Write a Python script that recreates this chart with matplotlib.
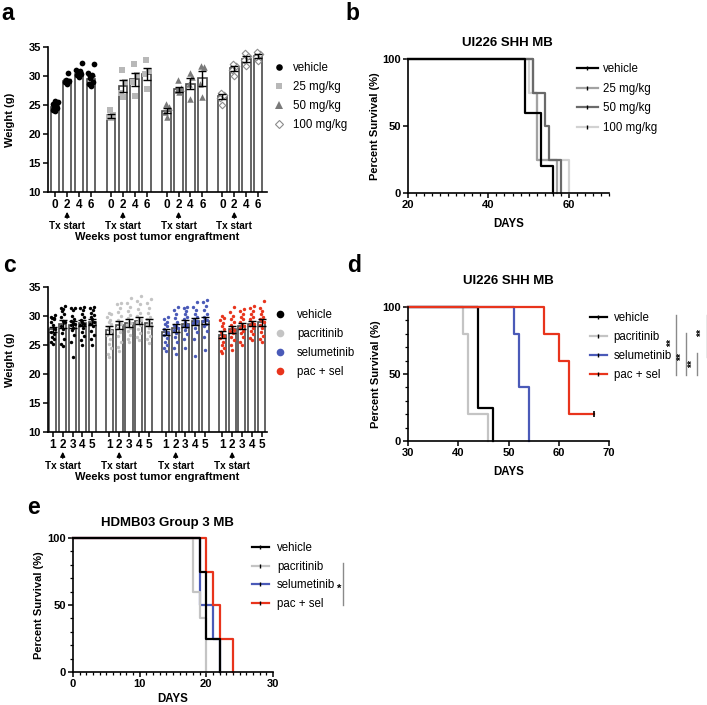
import matplotlib

matplotlib.use("Agg")
import matplotlib.pyplot as plt
import matplotlib.transforms as mtransforms
from matplotlib.lines import Line2D
from matplotlib.ticker import MultipleLocator
import numpy as np

plt.rcParams["font.family"] = ["Liberation Sans", "DejaVu Sans"]
plt.rcParams["font.weight"] = "bold"
plt.rcParams["axes.labelweight"] = "bold"

W, H = 707, 705

# ---------------- panel a: weights, dose groups ----------------
A_WEEKS = [0, 2, 4, 6]
A_GROUPS = ["vehicle", "25 mg/kg", "50 mg/kg", "100 mg/kg"]
A_MEANS = [
    [24.7, 29.1, 30.4, 29.5],
    [23.1, 28.3, 29.4, 30.4],
    [24.0, 27.7, 28.7, 29.6],
    [26.5, 31.3, 32.9, 33.4],
]
A_VEHICLE_PTS = [
    [23.9, 24.2, 24.5, 24.7, 24.9, 25.2, 25.5, 25.7],
    [28.7, 28.9, 29.1, 29.3, 30.6],
    [29.9, 30.2, 30.4, 30.6, 30.9, 31.0, 32.3],
    [28.2, 28.6, 29.0, 29.6, 30.1, 30.6, 32.1],
]
A_25_PTS = [
    [22.7, 23.0, 23.3, 24.2],
    [26.3, 27.1, 29.0, 31.0],
    [26.5, 29.0, 30.2, 32.0],
    [27.8, 30.4, 30.9, 32.8],
]
A_50_PTS = [
    [23.0, 23.8, 24.6, 25.1],
    [27.2, 27.6, 27.9, 29.3],
    [26.0, 28.6, 29.8, 30.5],
    [26.3, 28.6, 31.6, 31.8],
]
A_100_PTS = [
    [25.0, 26.2, 26.7, 27.0],
    [30.0, 31.0, 31.7, 32.0],
    [31.7, 32.8, 33.5, 34.0],
    [32.6, 33.3, 33.8, 34.2],
]

# ---------------- panel c: weights, drug groups ----------------
C_WEEKS = [1, 2, 3, 4, 5]
C_GROUPS = ["vehicle", "pacritinib", "selumetinib", "pac + sel"]
C_MEANS = [
    [27.7, 28.6, 28.5, 28.8, 29.0],
    [27.6, 28.5, 28.8, 29.2, 28.8],
    [27.3, 27.9, 28.7, 29.1, 29.2],
    [26.8, 27.7, 28.2, 28.7, 28.9],
]
C_VEHICLE_PTS = [
    [25.2, 25.6, 26.0, 26.3, 26.9, 27.3, 27.8, 28.4, 29.0, 29.4, 29.7, 29.9, 30.2, 29.6],
    [24.8, 25.1, 26.0, 27.0, 27.7, 28.3, 28.9, 29.2, 29.8, 30.3, 30.9, 31.4, 31.7, 31.2],
    [23.0, 25.6, 26.8, 27.6, 28.0, 28.4, 28.8, 29.1, 29.5, 30.0, 31.0, 31.4, 31.3, 28.6],
    [25.0, 25.8, 26.5, 27.2, 28.0, 28.5, 28.9, 29.3, 29.8, 30.3, 31.0, 31.3, 31.5, 28.7],
    [25.0, 26.0, 26.8, 27.5, 28.2, 28.7, 29.0, 29.4, 29.8, 30.2, 30.6, 31.0, 31.3, 31.5],
]
C_PAC_PTS = [
    [23.0, 23.5, 24.4, 25.2, 26.0, 26.8, 27.5, 28.1, 28.7, 29.3, 29.8, 30.3, 30.6, 29.0, 27.9],
    [24.0, 24.6, 25.5, 26.5, 27.3, 28.0, 28.6, 29.3, 30.0, 30.7, 31.4, 32.0, 32.3, 29.0],
    [25.5, 26.0, 26.8, 27.5, 28.0, 28.5, 29.0, 29.6, 30.2, 30.8, 31.5, 32.2, 33.1, 28.8],
    [25.8, 26.3, 27.0, 27.8, 28.5, 29.0, 29.5, 30.0, 30.5, 31.2, 32.0, 32.6, 33.5, 29.3],
    [25.4, 26.0, 26.6, 27.3, 28.0, 28.5, 29.0, 29.4, 29.9, 30.5, 31.4, 32.2, 32.9, 28.4],
]
C_SEL_PTS = [
    [24.0, 24.5, 25.0, 25.6, 26.2, 26.8, 27.3, 27.8, 28.2, 28.6, 29.0, 29.4, 29.8, 27.1],
    [23.5, 24.4, 25.5, 26.4, 27.0, 27.6, 28.0, 28.5, 29.0, 29.6, 30.3, 31.0, 31.5, 28.2],
    [24.5, 26.0, 26.9, 27.6, 28.1, 28.5, 29.0, 29.4, 29.9, 30.4, 30.9, 31.3, 31.5, 28.3],
    [23.1, 26.0, 27.2, 28.0, 28.6, 29.1, 29.5, 29.9, 30.4, 31.0, 31.6, 32.4, 29.2, 28.8],
    [24.2, 26.3, 27.5, 28.2, 28.7, 29.1, 29.5, 29.9, 30.4, 31.0, 31.8, 32.4, 32.7, 29.3],
]
C_PACSEL_PTS = [
    [23.6, 24.0, 24.5, 25.0, 25.6, 26.2, 26.7, 27.2, 27.7, 28.2, 28.8, 29.3, 29.7, 30.0, 26.5],
    [24.2, 25.0, 25.8, 26.4, 27.0, 27.5, 28.0, 28.4, 28.9, 29.4, 30.0, 30.7, 31.5, 27.6],
    [25.0, 25.6, 26.3, 27.0, 27.5, 28.0, 28.5, 29.0, 29.4, 29.8, 30.3, 30.8, 31.2, 28.2],
    [25.8, 26.2, 26.9, 27.5, 28.0, 28.5, 29.0, 29.4, 29.9, 30.3, 30.8, 31.3, 31.8, 28.6],
    [25.5, 26.0, 26.6, 27.3, 28.0, 28.5, 29.0, 29.5, 29.9, 30.3, 30.8, 31.4, 32.6, 29.1],
]

# ---------------- panel b: survival, dose groups ----------------
B_VEHICLE = ([0, 49, 53, 56], [100, 60, 20, 0])
B_25 = ([0, 51, 52, 57], [100, 75, 25, 0])
B_50 = ([0, 51, 54, 55, 58], [100, 75, 50, 25, 0])
B_100 = ([0, 50, 52, 60], [100, 75, 25, 0])

# ---------------- panel d: survival, drug groups (UI226) ----------------
D_VEHICLE = ([0, 44, 47], [100, 25, 0])
D_PAC = ([0, 41, 42, 46], [100, 80, 20, 0])
D_SEL = ([0, 51, 52, 54], [100, 80, 40, 0])
D_PACSEL = ([0, 57, 60, 62, 67], [100, 80, 60, 20, 20])
D_CENSOR = (67, 20)

# ---------------- panel e: survival, drug groups (HDMB03) ----------------
E_VEHICLE = ([0, 19, 20, 22], [100, 75, 25, 0])
E_PAC = ([0, 18, 19, 20], [100, 60, 40, 0])
E_SEL = ([0, 19, 21, 22], [100, 50, 25, 0])
E_PACSEL = ([0, 20, 21, 22, 24], [100, 75, 50, 25, 0])

GRAY_A = ["black", "#b8b8b8", "#7a7a7a", "white"]
DRUG_COLORS = ["black", "#c4c4c4", "#4a5ab8", "#e8341c"]
LEGEND_FONT = {"weight": "normal", "size": 8.3}


def fpos(x, y):
    return (x / W, 1 - y / H)


def axes_px(fig, left, top, right, bottom):
    return fig.add_axes([left / W, 1 - bottom / H, (right - left) / W, (bottom - top) / H])


def style_axes(ax):
    for side in ["top", "right"]:
        ax.spines[side].set_visible(False)
    for side in ["left", "bottom"]:
        ax.spines[side].set_linewidth(1.2)
    ax.tick_params(direction="out", length=3.5, width=1.1, labelsize=8, pad=1.5)
    ax.tick_params(which="minor", direction="out", length=2.2, width=0.9)


def swarm_offsets(vals, amp):
    pattern = np.array([0.0, -0.75, 0.75, -0.38, 0.38, -1.0, 1.0]) * amp
    order = np.argsort(vals)
    off = np.zeros(len(vals))
    for k, idx in enumerate(order):
        off[idx] = pattern[k % len(pattern)]
    return off


def weight_panel(fig, ax, weeks, means, points, marker_kw, step, xlim, bar_w, amp,
                 axis_bottom_px, label_px):
    style_axes(ax)
    ticks, labels = [], []
    n = len(weeks)
    for g, (m, pts, mk) in enumerate(zip(means, points, marker_kw)):
        xs = g * step + np.arange(n)
        ax.bar(xs, m, width=bar_w, color="white", edgecolor="#4a4a4a", linewidth=1.2, zorder=1)
        sems = []
        for x, vals in zip(xs, pts):
            vals = np.asarray(vals)
            ax.scatter(x + swarm_offsets(vals, amp), vals, zorder=2, clip_on=False, **mk)
            sems.append(vals.std(ddof=1) / np.sqrt(len(vals)))
        ax.errorbar(xs, m, yerr=sems, fmt="none", ecolor="black", elinewidth=1.0,
                    capsize=2.6, capthick=1.0, zorder=3)
        ticks.extend(xs)
        labels.extend(str(w) for w in weeks)
        tx = xs[list(weeks).index(2)]
        trans = mtransforms.blended_transform_factory(ax.transData, fig.transFigure)
        ax.annotate("", xy=(tx, 1 - (axis_bottom_px + 17) / H),
                    xytext=(tx, 1 - (axis_bottom_px + 29) / H), xycoords=trans, textcoords=trans,
                    arrowprops=dict(arrowstyle="-|>", color="black", lw=1.0, mutation_scale=7))
        ax.text(tx, 1 - (axis_bottom_px + 34) / H, "Tx start", transform=trans,
                ha="center", va="center", fontsize=7.2)
    ax.set_xticks(ticks)
    ax.set_xticklabels(labels, fontsize=8.5)
    ax.set_xlim(*xlim)
    ax.set_ylim(10, 35)
    ax.set_yticks([10, 15, 20, 25, 30, 35])
    ax.set_ylabel("Weight (g)", fontsize=8)
    ax.yaxis.set_label_coords(-0.15, 0.5)
    fig.text(*fpos(157, label_px), "Weeks post tumor engraftment", ha="center", va="center",
             fontsize=8)


def survival_panel(ax, curves, xlim, xmajor, xminor, yminor, title, title_px, ylab_x, xlab_y):
    style_axes(ax)
    for (t, s), c in curves:
        t_plot = np.clip(np.asarray(t, dtype=float), xlim[0], None)
        ax.step(t_plot, s, where="post", color=c, linewidth=1.6, clip_on=False)
    ax.set_xlim(*xlim)
    ax.set_ylim(0, 100)
    ax.set_yticks([0, 50, 100])
    ax.xaxis.set_major_locator(MultipleLocator(xmajor))
    if xminor:
        ax.xaxis.set_minor_locator(MultipleLocator(xminor))
    if yminor:
        ax.yaxis.set_minor_locator(MultipleLocator(yminor))
    ax.set_xlabel("DAYS", fontsize=8.3)
    ax.set_ylabel("Percent Survival (%)", fontsize=8)
    ax.xaxis.set_label_coords(0.5, xlab_y)
    ax.yaxis.set_label_coords(ylab_x, 0.5)
    ax.figure.text(*fpos(*title_px), title, ha="center", va="center", fontsize=9.5)


def survival_legend(ax, colors, names, anchor_px, handlelength, textpad, spacing):
    handles = [Line2D([], [], color=c, lw=1.6, marker="|", markersize=3.5,
                      markeredgecolor="black", markeredgewidth=1.0) for c in colors]
    ax.legend(handles, names, loc="upper left", bbox_to_anchor=fpos(*anchor_px),
              bbox_transform=ax.figure.transFigure, frameon=False, prop=LEGEND_FONT,
              handlelength=handlelength, handletextpad=textpad, labelspacing=spacing,
              borderpad=0, borderaxespad=0)


def main() -> None:
    fig = plt.figure(figsize=(W / 100, H / 100), dpi=100)

    # panel a
    ax_a = axes_px(fig, 48, 47, 267, 192)
    a_markers = [
        dict(marker="o", s=17, color=GRAY_A[0], linewidths=0),
        dict(marker="s", s=15, color=GRAY_A[1], linewidths=0),
        dict(marker="^", s=22, color=GRAY_A[2], linewidths=0),
        dict(marker="D", s=11, facecolor=GRAY_A[3], edgecolor="#8c8c8c", linewidths=0.8),
    ]
    weight_panel(fig, ax_a, A_WEEKS, A_MEANS, [A_VEHICLE_PTS, A_25_PTS, A_50_PTS, A_100_PTS],
                 a_markers, 4.67, (-0.6, 17.75), 0.72, 0.22, 192, 237)
    handles = [Line2D([], [], linestyle="none", marker=mk["marker"], markersize=np.sqrt(mk["s"]) * 1.15,
                      markerfacecolor=mk.get("color", mk.get("facecolor")),
                      markeredgecolor=mk.get("edgecolor", mk.get("color")),
                      markeredgewidth=mk["linewidths"]) for mk in a_markers]
    ax_a.legend(handles, A_GROUPS, loc="upper left", bbox_to_anchor=fpos(273, 62),
                bbox_transform=fig.transFigure, frameon=False, prop=LEGEND_FONT,
                handlelength=1.0, handletextpad=0.75, labelspacing=0.6, borderpad=0,
                borderaxespad=0)

    # panel c
    ax_c = axes_px(fig, 48, 287, 267, 432)
    c_markers = [dict(marker="o", s=6, color=c, linewidths=0) for c in DRUG_COLORS]
    weight_panel(fig, ax_c, C_WEEKS, C_MEANS, [C_VEHICLE_PTS, C_PAC_PTS, C_SEL_PTS, C_PACSEL_PTS],
                 c_markers, 5.75, (-0.5, 21.8), 0.72, 0.2, 432, 477)
    handles = [Line2D([], [], linestyle="none", marker="o", markersize=5.5, markerfacecolor=c,
                      markeredgewidth=0) for c in DRUG_COLORS]
    ax_c.legend(handles, C_GROUPS, loc="upper left", bbox_to_anchor=fpos(274, 309),
                bbox_transform=fig.transFigure, frameon=False, prop=LEGEND_FONT,
                handlelength=1.0, handletextpad=1.0, labelspacing=0.6, borderpad=0,
                borderaxespad=0)

    # panel b
    ax_b = axes_px(fig, 408, 59, 609, 193)
    b_colors = ["#d2d2d2", "#a2a2a2", "#6a6a6a", "black"]
    survival_panel(ax_b, list(zip([B_100, B_25, B_50, B_VEHICLE], b_colors)),
                   (20, 70), 20, 2, None, "UI226 SHH MB", (507, 43), -0.14, -0.19)
    survival_legend(ax_b, ["black", "#a2a2a2", "#6a6a6a", "#d2d2d2"],
                    ["vehicle", "25 mg/kg", "50 mg/kg", "100 mg/kg"], (577, 63), 1.8, 0.45, 0.66)

    # panel d
    ax_d = axes_px(fig, 408, 307, 609, 441)
    survival_panel(ax_d, list(zip([D_PAC, D_VEHICLE, D_SEL, D_PACSEL],
                                  [DRUG_COLORS[1], DRUG_COLORS[0], DRUG_COLORS[2], DRUG_COLORS[3]])),
                   (30, 70), 10, None, 10, "UI226 SHH MB", (508, 281), -0.135, -0.19)
    ax_d.plot(*D_CENSOR, marker="|", color="black", markersize=4, markeredgewidth=1.2, clip_on=False)
    survival_legend(ax_d, DRUG_COLORS, C_GROUPS, (590, 312), 1.45, 0.6, 0.6)

    # significance brackets, panel d
    d_sig = [(676, 315, 375, 672, 343), (685.7, 333, 375, 682, 357),
             (697, 353, 375, 693, 364), (706.5, 315, 357, 702, 333)]
    for x, y0, y1, tx, ty in d_sig:
        fig.add_artist(Line2D([x / W, x / W], [1 - y0 / H, 1 - y1 / H], color="#8a8a8a", lw=1.0))
        fig.text(*fpos(tx, ty), "**", rotation=90, ha="center", va="center", fontsize=7.5)

    # panel e
    ax_e = axes_px(fig, 73, 538, 273, 672)
    survival_panel(ax_e, list(zip([E_SEL, E_PAC, E_PACSEL, E_VEHICLE],
                                  [DRUG_COLORS[2], DRUG_COLORS[1], DRUG_COLORS[3], DRUG_COLORS[0]])),
                   (0, 30), 10, 1, 10, "HDMB03 Group 3 MB", (167, 523), -0.145, -0.155)
    survival_legend(ax_e, DRUG_COLORS, C_GROUPS, (252, 542), 1.45, 0.7, 0.58)
    fig.add_artist(Line2D([342.7 / W] * 2, [1 - 563 / H, 1 - 605 / H], color="#8a8a8a", lw=1.0))
    fig.text(*fpos(339, 589), "*", ha="center", va="center", fontsize=8)

    # panel letters
    for letter, x, y in [("a", 8, 14), ("b", 352, 13), ("c", 9, 266), ("d", 354, 265), ("e", 33, 508)]:
        fig.text(*fpos(x, y), letter, ha="center", va="center", fontsize=16.5)

    fig.savefig("out.png", dpi=100)
    plt.close(fig)


if __name__ == "__main__":
    main()
